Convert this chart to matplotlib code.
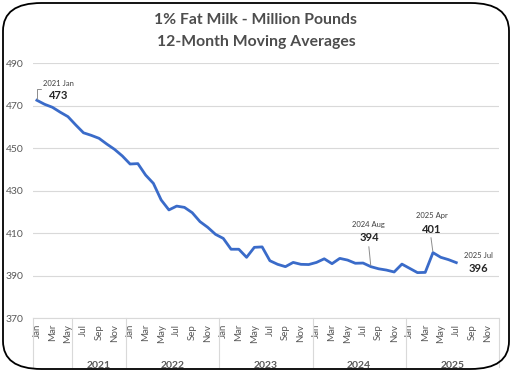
import numpy as np
import matplotlib
matplotlib.use("Agg")
import matplotlib.pyplot as plt
from matplotlib.patches import FancyBboxPatch

plt.rcParams['font.family'] = ['Lato', 'DejaVu Sans']

# 12-month moving averages, Jan 2021 - Jul 2025 (million pounds)
values = [
    472.6, 470.7, 469.3, 467.0, 464.9, 461.0, 457.3, 456.1, 454.7, 452.0, 449.5, 446.4,
    442.6, 442.8, 437.4, 433.5, 425.7, 421.0, 422.8, 422.2, 419.7, 415.5, 412.8, 409.5,
    407.6, 402.5, 402.5, 398.7, 403.4, 403.6, 397.1, 395.4, 394.3, 396.3, 395.4, 395.3,
    396.3, 398.0, 395.7, 398.2, 397.4, 395.9, 396.0, 394.3, 393.3, 392.7, 391.8,
    395.5, 393.5, 391.5, 391.6, 400.9, 398.7, 397.6, 396.2,
]
months = ['Jan', 'Feb', 'Mar', 'Apr', 'May', 'Jun', 'Jul', 'Aug', 'Sep', 'Oct', 'Nov', 'Dec']
years = ['2021', '2022', '2023', '2024', '2025']
# callouts: (index, top line, value text)
callouts = [(0, '2021 Jan', '473'), (43, '2024 Aug', '394'), (51, '2025 Apr', '401'), (54, '2025 Jul', '396')]

n_cat = len(years) * 12
x = np.arange(len(values))

fig = plt.figure(figsize=(5.12, 3.72), dpi=100)
fig.patch.set_facecolor('white')
ax = fig.add_axes([33 / 512, 1 - 318.3 / 372, 466 / 512, 255 / 372])

ax.plot(x, values, color='#3A6BC9', lw=2.0, solid_joinstyle='round', zorder=3)

ax.set_xlim(-0.5, n_cat - 0.5)
ax.set_ylim(370, 490)
ax.set_yticks(np.arange(370, 491, 20))
ax.yaxis.grid(True, color='#D9D9D9', lw=0.8)
ax.set_axisbelow(True)
for s in ['top', 'right', 'left']:
    ax.spines[s].set_visible(False)
ax.spines['bottom'].set_color('#D9D9D9')
ax.tick_params(axis='y', length=0, pad=7, labelsize=7.5, labelcolor='#595959')

tick_pos = [i for i in range(n_cat) if i % 2 == 0]
ax.set_xticks(tick_pos)
ax.set_xticklabels([months[i % 12] for i in tick_pos], rotation=90)
ax.tick_params(axis='x', length=0, pad=4, labelsize=7, labelcolor='#595959')

# year separators and labels below the axis
trans = ax.get_xaxis_transform()
bounds = [-0.5, 4.5, 11.5, 23.5, 35.5, 47.5, 59.5]
for b in bounds:
    ax.plot([b, b], [0, -0.19], transform=trans, color='#D9D9D9', lw=0.8, clip_on=False)
for k, yr in enumerate(years):
    lo, hi = bounds[k + 1], bounds[k + 2]
    ax.text((lo + hi) / 2, -0.185, yr, transform=trans, ha='center', va='center',
            fontsize=7.5, fontweight='bold', color='#595959')

# callouts
offsets = {0: ((22, 17), (22, 5)), 43: ((-2, 42), (-1, 29)),
           51: ((-1, 37), (-1, 23)), 54: ((22, 7), (22, -6))}
for i, top, val in callouts:
    o1, o2 = offsets[i]
    ax.annotate(top, (i, values[i]), xytext=o1, textcoords='offset pixels',
                ha='center', va='center', fontsize=5.5, color='#404040')
    ax.annotate(val, (i, values[i]), xytext=o2, textcoords='offset pixels',
                ha='center', va='center', fontsize=8, fontweight='bold', color='#262626')
ax.annotate('', (x[43], values[43]), xytext=(-2, 20), textcoords='offset pixels',
            arrowprops=dict(arrowstyle='-', color='#8C8C8C', lw=0.7, shrinkA=0, shrinkB=1))
ax.annotate('', (x[51], values[51]), xytext=(-2, 15), textcoords='offset pixels',
            arrowprops=dict(arrowstyle='-', color='#8C8C8C', lw=0.7, shrinkA=0, shrinkB=1))
ax.annotate('', (x[0], values[0]), xytext=(4, 11), textcoords='offset pixels',
            arrowprops=dict(arrowstyle='-', color='#8C8C8C', lw=0.7, shrinkA=0, shrinkB=1,
                            connectionstyle='angle,angleA=0,angleB=90,rad=0'))

fig.text(0.5, 1 - 20 / 372, '1% Fat Milk - Million Pounds', ha='center', va='center',
         fontsize=11.3, fontweight='bold', color='#4D4D4D')
fig.text(0.5, 1 - 42 / 372, '12-Month Moving Averages', ha='center', va='center',
         fontsize=11.3, fontweight='bold', color='#4D4D4D')

border = FancyBboxPatch((3 / 512, 3 / 372), 506 / 512, 366 / 372, boxstyle='round,pad=0,rounding_size=0.075',
                        transform=fig.transFigure, fill=False, edgecolor='black', lw=1.3)
fig.patches.append(border)

fig.savefig('out.png', dpi=100)
